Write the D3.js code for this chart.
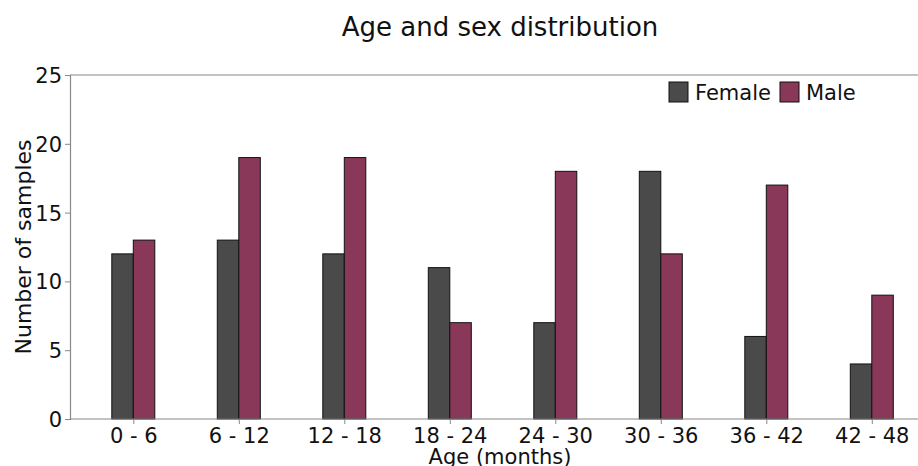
<!DOCTYPE html>
<html>
<head>
<meta charset="utf-8">
<script src="https://cdn.jsdelivr.net/npm/d3@7"></script>
<style>
  body { margin: 0; background: #fff; }
  text { font-family: "DejaVu Sans", sans-serif; fill: #111; }
</style>
</head>
<body>
<div id="chart"></div>
<script>
const ageGroups = ["0 - 6", "6 - 12", "12 - 18", "18 - 24", "24 - 30", "30 - 36", "36 - 42", "42 - 48"];
const femaleCounts = [12, 13, 12, 11, 7, 18, 6, 4];
const maleCounts = [13, 19, 19, 7, 18, 12, 17, 9];
const yTicks = [0, 5, 10, 15, 20, 25];
const seriesNames = ["Female", "Male"];
const seriesColors = ["#4a4a4a", "#8a3859"];

const width = 918, height = 466;
const margin = { top: 75, left: 70, bottom: 47 };
const innerHeight = height - margin.top - margin.bottom;
const step = 105.5; // distance between groups
const barW = 21.5;

const svg = d3.select("#chart").append("svg")
    .attr("width", width).attr("height", height);

// posizione dei gruppi: scala lineare come in matplotlib (xlim -0.6 .. 7.6)
const xScale = d3.scaleLinear().domain([-0.6, 7.6])
    .range([margin.left, margin.left + 8.2 * step]);
const yScale = d3.scaleLinear().domain([0, 25])
    .range([margin.top + innerHeight, margin.top]);

const series = [femaleCounts, maleCounts];

// Barre
series.forEach((vals, s) => {
    svg.append("g").selectAll("rect")
        .data(vals).enter().append("rect")
        .attr("x", (d, i) => xScale(i) + (s === 0 ? -barW : 0))
        .attr("y", d => yScale(d))
        .attr("width", barW)
        .attr("height", d => yScale(0) - yScale(d))
        .attr("fill", seriesColors[s])
        .attr("stroke", "#111").attr("stroke-width", 1);
});

// Assi
const gx = svg.append("g")
    .attr("transform", `translate(0,${yScale(0)})`)
    .call(d3.axisBottom(xScale).tickValues(d3.range(ageGroups.length))
        .tickFormat(i => ageGroups[i]).tickSize(5).tickPadding(4));
const gy = svg.append("g")
    .attr("transform", `translate(${margin.left},0)`)
    .call(d3.axisLeft(yScale).tickValues(yTicks).tickSize(5).tickPadding(3));

[gx, gy].forEach(g => {
    g.select(".domain").attr("stroke", "#888").attr("stroke-width", 1.2);
    g.selectAll(".tick line").attr("stroke", "#888");
    g.selectAll(".tick text").style("font-size", "21px").attr("fill", "#111");
});
gx.select(".domain").attr("d", `M${margin.left},0H${width}`);
gy.selectAll(".tick text").attr("dy", "0.36em");

// bordo superiore
svg.append("line")
    .attr("x1", margin.left).attr("x2", width)
    .attr("y1", yScale(25)).attr("y2", yScale(25))
    .attr("stroke", "#888").attr("stroke-width", 1.2);

// Titoli
svg.append("text").attr("x", 500).attr("y", 36)
    .attr("text-anchor", "middle").style("font-size", "26px")
    .text("Age and sex distribution");
svg.append("text").attr("x", 500).attr("y", 464)
    .attr("text-anchor", "middle").style("font-size", "21px")
    .text("Age (months)");
svg.append("text")
    .attr("transform", `translate(31,${(yScale(0) + yScale(25)) / 2}) rotate(-90)`)
    .attr("text-anchor", "middle").style("font-size", "22px")
    .text("Number of samples");

// Legenda
const legend = svg.append("g").attr("transform", "translate(669,82)");
const legendX = [0, 111];
seriesNames.forEach((name, i) => {
    const row = legend.append("g").attr("transform", `translate(${legendX[i]},0)`);
    row.append("rect").attr("width", 19).attr("height", 20)
        .attr("fill", seriesColors[i]).attr("stroke", "#111");
    row.append("text").attr("x", 26).attr("y", 18)
        .style("font-size", "21px").text(name);
});
</script>
</body>
</html>
